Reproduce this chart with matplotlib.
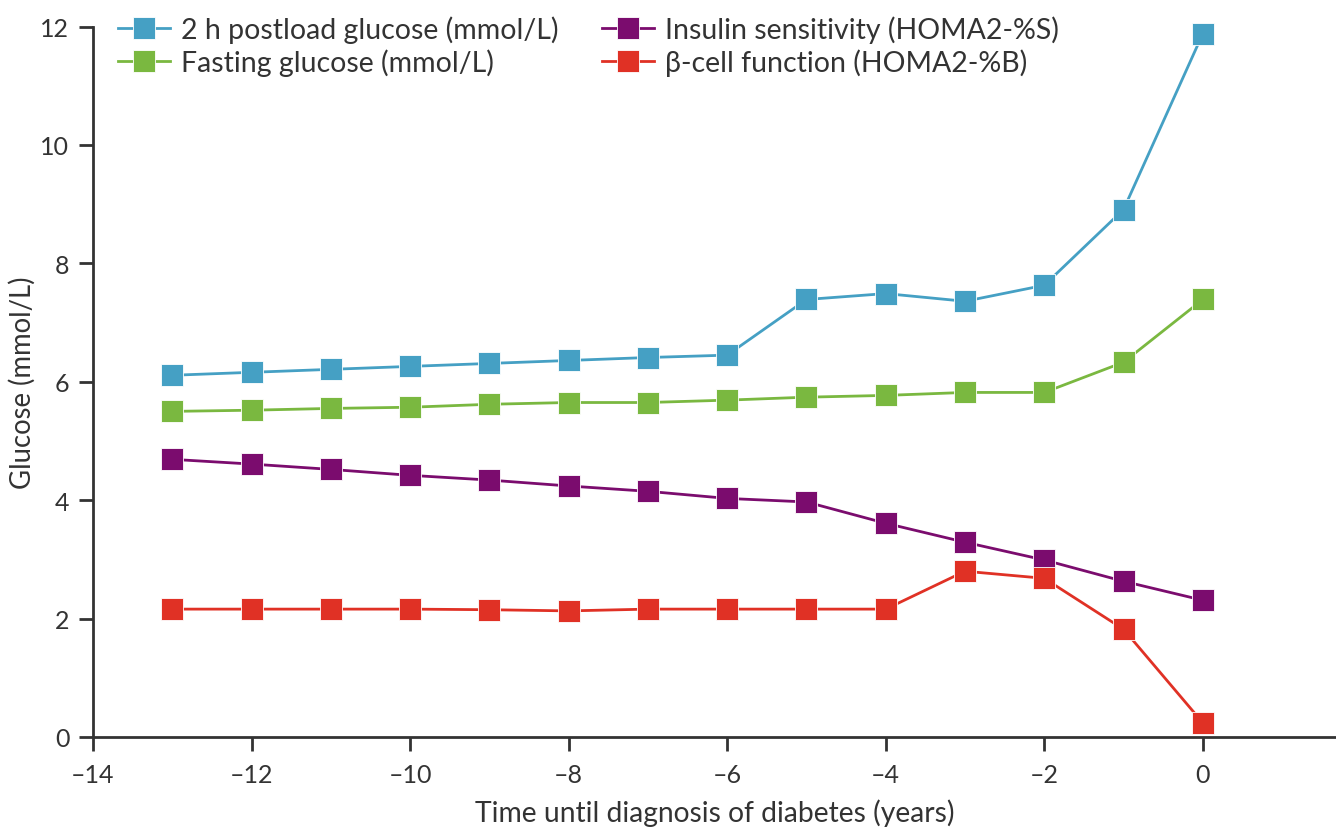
import matplotlib
matplotlib.use("Agg")
import matplotlib.pyplot as plt

plt.rcParams['font.family'] = ['Lato', 'DejaVu Sans']

years = [-13, -12, -11, -10, -9, -8, -7, -6, -5, -4, -3, -2, -1, 0]
postload = [6.11, 6.16, 6.21, 6.26, 6.31, 6.36, 6.41, 6.45, 7.39, 7.49, 7.36, 7.63, 8.91, 11.88]
fasting = [5.50, 5.52, 5.55, 5.57, 5.62, 5.65, 5.65, 5.69, 5.74, 5.77, 5.82, 5.82, 6.33, 7.39]
insulin = [4.69, 4.61, 4.52, 4.42, 4.34, 4.24, 4.15, 4.03, 3.97, 3.61, 3.29, 2.99, 2.63, 2.31]
beta = [2.16, 2.16, 2.16, 2.16, 2.15, 2.13, 2.16, 2.16, 2.16, 2.16, 2.80, 2.68, 1.82, 0.24]

labels = ["2 h postload glucose (mmol/L)", "Fasting glucose (mmol/L)",
          "Insulin sensitivity (HOMA2-%S)", "β-cell function (HOMA2-%B)"]
colors = ["#45A0C4", "#7AB840", "#7B0C6E", "#E03125"]
xticks = [-14, -12, -10, -8, -6, -4, -2, 0]
yticks = [0, 2, 4, 6, 8, 10, 12]

fig = plt.figure(figsize=(13.36, 8.28), dpi=100)
ax = fig.add_axes([0.0696, 0.1087, 0.9304, 0.858])

for ys, lab, c in zip([postload, fasting, insulin, beta], labels, colors):
    ax.plot(years, ys, color=c, lw=2, marker='s', markersize=16,
            markeredgecolor='white', markeredgewidth=0.6, label=lab, clip_on=False)

ax.set_xlim(-14, 1.68)
ax.set_ylim(0, 12)
ax.set_xticks(xticks)
ax.set_xticklabels(["\u2013" + str(-t) if t < 0 else str(t) for t in xticks])
ax.set_yticks(yticks)
for s in ['top', 'right']:
    ax.spines[s].set_visible(False)
for s in ['left', 'bottom']:
    ax.spines[s].set_linewidth(2)
    ax.spines[s].set_color('#333333')
ax.tick_params(axis='both', direction='out', length=10, width=2, color='#333333',
               labelsize=18, labelcolor='#333333', pad=7)
ax.tick_params(axis='x', pad=9)

ax.set_xlabel("Time until diagnosis of diabetes (years)", fontsize=20.3, color='#333333', labelpad=9)
ax.set_ylabel("Glucose (mmol/L)", fontsize=19.8, color='#333333', labelpad=3)

leg = ax.legend(ncol=2, loc='upper left', bbox_to_anchor=(0.020, 1.016), frameon=False,
                fontsize=20.5, handlelength=1.83, handletextpad=0.4, columnspacing=1.5,
                labelspacing=0.2, borderaxespad=0, borderpad=0)
for t in leg.get_texts():
    t.set_color('#333333')

fig.savefig("out.png", dpi=100)
